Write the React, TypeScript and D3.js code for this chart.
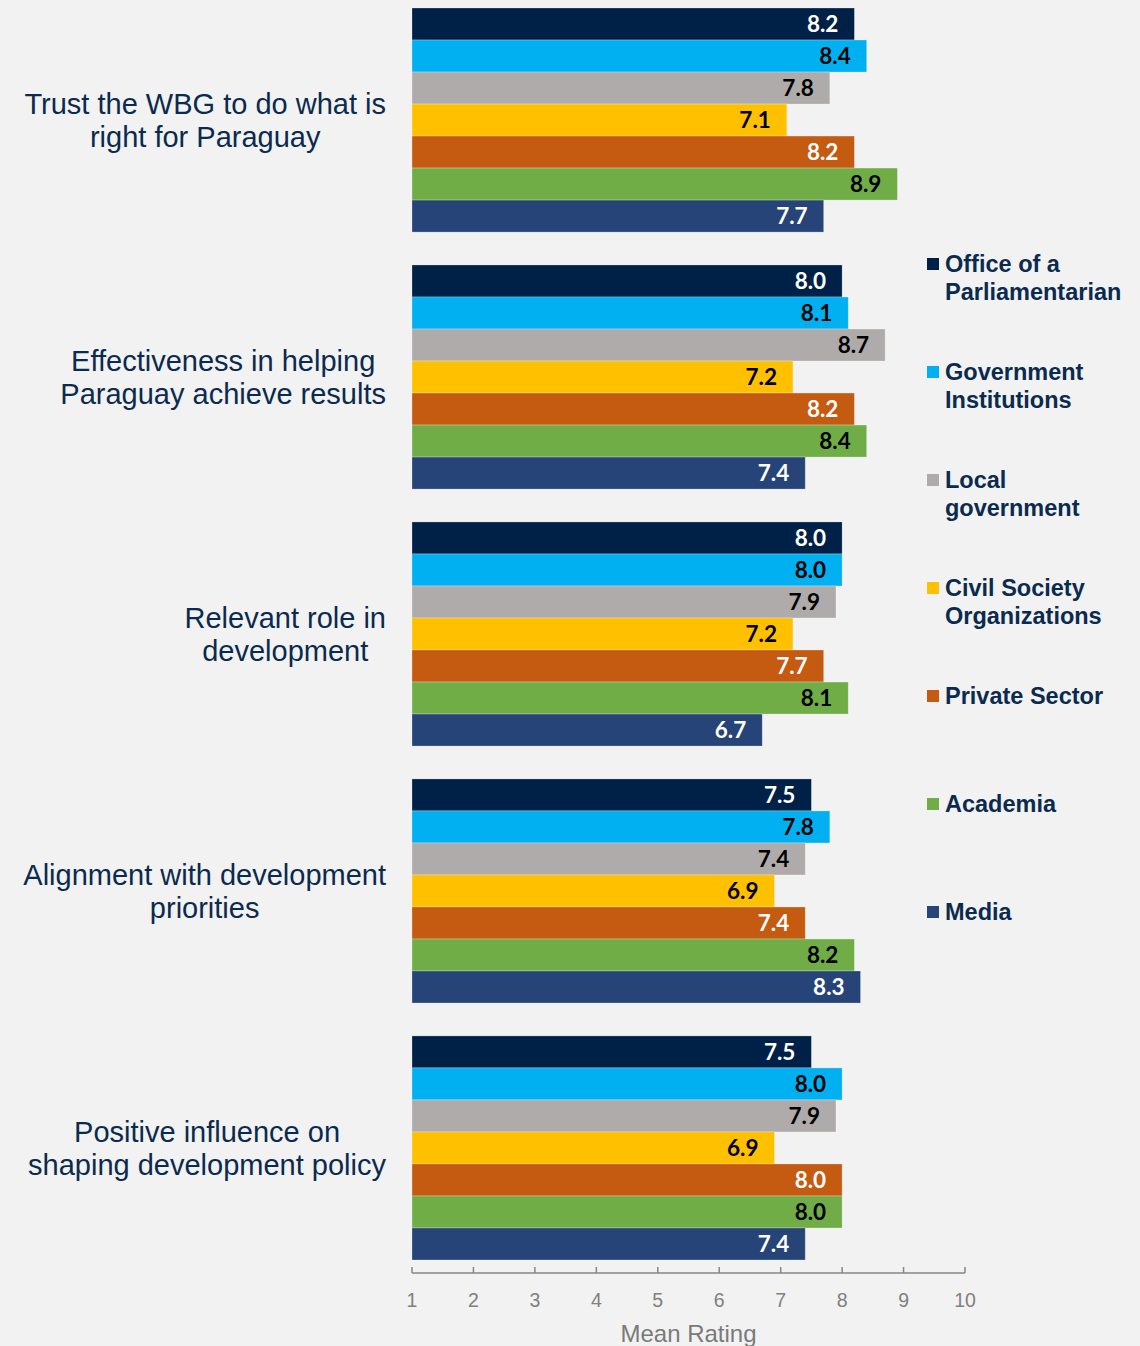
import React, { useRef, useEffect } from 'react'
import * as d3 from 'd3'

// category labels, already broken into lines as in the source
const categories = [
	["Trust the WBG to do what is", "right for Paraguay"],
	["Effectiveness in helping", "Paraguay achieve results"],
	["Relevant role in", "development"],
	["Alignment with development", "priorities"],
	["Positive influence on", "shaping development policy"],
]

const seriesNames = [
	"Office of a Parliamentarian",
	"Government Institutions",
	"Local government",
	"Civil Society Organizations",
	"Private Sector",
	"Academia",
	"Media",
]

const legendLines = [
	["Office of a", "Parliamentarian"],
	["Government", "Institutions"],
	["Local", "government"],
	["Civil Society", "Organizations"],
	["Private Sector"],
	["Academia"],
	["Media"],
]

// one value per category, per series
const officeValues = [8.2, 8.0, 8.0, 7.5, 7.5]
const governmentValues = [8.4, 8.1, 8.0, 7.8, 8.0]
const localValues = [7.8, 8.7, 7.9, 7.4, 7.9]
const civilValues = [7.1, 7.2, 7.2, 6.9, 6.9]
const privateValues = [8.2, 8.2, 7.7, 7.4, 8.0]
const academiaValues = [8.9, 8.4, 8.1, 8.2, 8.0]
const mediaValues = [7.7, 7.4, 6.7, 8.3, 7.4]

const seriesValues = [officeValues, governmentValues, localValues, civilValues, privateValues, academiaValues, mediaValues]

const tickValues = [1, 2, 3, 4, 5, 6, 7, 8, 9, 10]

const colors = ["#002147", "#00b0f0", "#afabab", "#ffc000", "#c55a11", "#70ad47", "#264478"]
const labelColors = ["#ffffff", "#000000", "#000000", "#000000", "#ffffff", "#000000", "#ffffff"]

const layout = {
	width: 1140,
	height: 1346,
	plotLeft: 412,
	plotRight: 965,
	plotTop: 8,
	plotBottom: 1260,
	axisY: 1273,
	catRight: 386,
	legendX: 927,
	legendY: 264,
	legendStep: 108,
}

const navy = "#0b2a4f"

export default function App() {
	const ref = useRef(null)

	useEffect(() => {
		const svg = d3.select(ref.current)
		svg.selectAll("*").remove()

		svg.append("rect")
			.attr("width", layout.width)
			.attr("height", layout.height)
			.attr("fill", "#f2f2f2")

		const x = d3.scaleLinear()
			.domain([1, 10])
			.range([layout.plotLeft, layout.plotRight])

		const y0 = d3.scaleBand()
			.domain(d3.range(categories.length))
			.range([layout.plotTop, layout.plotBottom])
			.paddingInner(0.128)

		const y1 = d3.scaleBand()
			.domain(d3.range(seriesNames.length))
			.range([0, y0.bandwidth()])

		const rows = []
		categories.forEach((c, ci) => {
			seriesNames.forEach((s, si) => {
				rows.push({ ci, si, value: seriesValues[si][ci] })
			})
		})

		const bars = svg.append("g")
		bars.selectAll("rect")
			.data(rows)
			.join("rect")
			.attr("x", x(1))
			.attr("y", d => y0(d.ci) + y1(d.si))
			.attr("width", d => x(d.value) - x(1))
			.attr("height", y1.bandwidth())
			.attr("fill", d => colors[d.si])
			.attr("stroke", "#ffffff")
			.attr("stroke-opacity", 0.35)
			.attr("stroke-width", 0.75)

		bars.selectAll("text")
			.data(rows)
			.join("text")
			.attr("x", d => x(d.value) - 16)
			.attr("y", d => y0(d.ci) + y1(d.si) + y1.bandwidth() / 2)
			.attr("dy", "0.36em")
			.attr("text-anchor", "end")
			.attr("font-family", "Lato, 'Open Sans', sans-serif")
			.attr("font-weight", "bold")
			.attr("font-size", 22.5)
			.attr("fill", d => labelColors[d.si])
			.text(d => d3.format(".1f")(d.value))

		// category labels: lines centred within a block that is right aligned
		const cats = svg.append("g")
		categories.forEach((lines, ci) => {
			const g = cats.append("g")
			const cy = y0(ci) + y0.bandwidth() / 2
			const lh = 33
			const texts = g.selectAll("text")
				.data(lines)
				.join("text")
				.attr("y", (d, i) => cy + (i - (lines.length - 1) / 2) * lh)
				.attr("dy", "0.35em")
				.attr("text-anchor", "middle")
				.attr("font-family", "'Liberation Sans', Arial, sans-serif")
				.attr("font-size", 29)
				.attr("fill", navy)
				.text(d => d)
			let maxW = 0
			texts.each(function () { maxW = Math.max(maxW, this.getComputedTextLength()) })
			texts.attr("x", layout.catRight - maxW / 2)
		})

		// x axis
		const axis = svg.append("g")
			.attr("transform", `translate(0,${layout.axisY})`)
		axis.append("line")
			.attr("x1", x(1))
			.attr("x2", x(10))
			.attr("stroke", "#868686")
			.attr("stroke-width", 1.5)
		axis.selectAll(".tick")
			.data(tickValues)
			.join("line")
			.attr("class", "tick")
			.attr("x1", d => x(d))
			.attr("x2", d => x(d))
			.attr("y1", -6)
			.attr("y2", 0)
			.attr("stroke", "#868686")
			.attr("stroke-width", 1.5)
		axis.selectAll(".ticklabel")
			.data(tickValues)
			.join("text")
			.attr("class", "ticklabel")
			.attr("x", d => x(d))
			.attr("y", 34)
			.attr("text-anchor", "middle")
			.attr("font-family", "'Liberation Sans', Arial, sans-serif")
			.attr("font-size", 19.5)
			.attr("fill", "#808080")
			.text(d => d)
		axis.append("text")
			.attr("x", (x(1) + x(10)) / 2)
			.attr("y", 69)
			.attr("text-anchor", "middle")
			.attr("font-family", "'Liberation Sans', Arial, sans-serif")
			.attr("font-size", 24)
			.attr("fill", "#7a7a7a")
			.text("Mean Rating")

		// legend
		const legend = svg.append("g")
		legendLines.forEach((lines, i) => {
			const ly = layout.legendY + i * layout.legendStep
			legend.append("rect")
				.attr("x", layout.legendX)
				.attr("y", ly - 6)
				.attr("width", 12)
				.attr("height", 12)
				.attr("fill", colors[i])
			legend.append("g")
				.selectAll("text")
				.data(lines)
				.join("text")
				.attr("x", layout.legendX + 18)
				.attr("y", (d, j) => ly + j * 28)
				.attr("dy", "0.36em")
				.attr("font-family", "'Liberation Sans', Arial, sans-serif")
				.attr("font-weight", "bold")
				.attr("font-size", 23.5)
				.attr("fill", navy)
				.text(d => d)
		})
	}, [])

	return (
		<svg ref={ref} width={layout.width} height={layout.height}
			style={{ position: "absolute", left: 0, top: 0, display: "block" }} />
	)
}
